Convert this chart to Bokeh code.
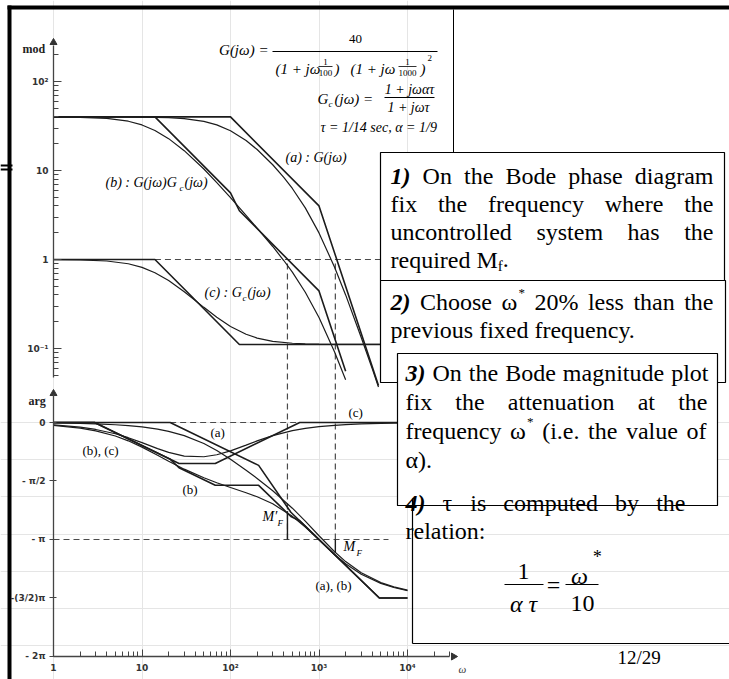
import math
from bokeh.plotting import figure
from bokeh.models import Range1d, LogScale, LinearScale, LogAxis, LinearAxis, FixedTicker
from bokeh.core.properties import value
from bokeh.embed import file_html
from bokeh.resources import INLINE

W, H = 729, 679

# ---------------- values ----------------
# magnitude, (a) |G(jw)|
w_mag_a = [1, 2, 4, 7, 10, 14, 20, 30, 50, 70, 100, 150, 200, 300, 400, 500, 700, 1000, 1500, 2000, 3000, 4000, 4700]
mag_a = [40.0, 40.0, 40.0, 39.9, 39.8, 39.6, 39.2, 38.3, 35.7, 32.6, 28.0, 21.7, 17.2, 11.6, 8.36, 6.28, 3.80, 1.99, 0.82, 0.40, 0.133, 0.059, 0.037]
# magnitude, (b) |G Gc|
w_mag_b = [1, 2, 4, 7, 10, 14, 20, 30, 50, 70, 100, 150, 200, 300, 400, 500, 700, 1000, 1500, 2000]
mag_b = [39.9, 39.6, 38.5, 35.8, 32.5, 28.2, 22.8, 16.7, 10.4, 7.30, 4.96, 3.14, 2.25, 1.40, 0.974, 0.720, 0.429, 0.223, 0.0913, 0.0445]
# magnitude, (c) |Gc|
w_mag_c = [1, 2, 4, 7, 10, 14, 20, 30, 50, 70, 100, 150, 200, 300, 500, 700, 1000, 2000, 5000]
mag_c = [0.997, 0.990, 0.962, 0.896, 0.816, 0.711, 0.581, 0.435, 0.290, 0.224, 0.177, 0.1445, 0.131, 0.120, 0.1146, 0.1129, 0.112, 0.1113, 0.1111]
# magnitude asymptotes
w_asym_a = [1, 100, 1000, 4700]
asym_mag_a = [40, 40, 4, 0.0385]
w_asym_b = [1, 14, 100, 126, 1000, 2000]
asym_mag_b = [40, 40, 5.6, 3.53, 0.444, 0.0556]
w_asym_c = [1, 14, 126, 5000]
asym_mag_c = [1, 1, 0.111, 0.111]

# phase (rad)
w_phase = [1, 2, 3, 5, 7, 10, 15, 20, 30, 50, 70, 100, 150, 200, 300, 500, 700, 1000, 1500, 2000, 3000, 5000, 7000, 10000]
phase_a = [-0.012, -0.024, -0.036, -0.060, -0.084, -0.120, -0.179, -0.237, -0.352, -0.564, -0.751, -0.985, -1.281, -1.502, -1.832, -2.301, -2.650, -3.042, -3.470, -3.735, -4.036, -4.298, -4.414, -4.503]
phase_b = [-0.075, -0.150, -0.223, -0.363, -0.492, -0.661, -0.880, -1.040, -1.253, -1.484, -1.617, -1.746, -1.887, -1.995, -2.183, -2.520, -2.808, -3.153, -3.545, -3.791, -4.073, -4.320, -4.430, -4.514]
phase_c = [-0.063, -0.126, -0.187, -0.303, -0.408, -0.541, -0.701, -0.803, -0.901, -0.920, -0.866, -0.761, -0.606, -0.493, -0.351, -0.219, -0.158, -0.111, -0.075, -0.056, -0.037, -0.022, -0.016, -0.011]
# phase asymptotes
w_pasym_a = [1, 20.8, 208, 481, 4810, 10000]
pasym_a = [0, 0, -1.152, -2.409, -4.712, -4.712]
w_pasym_b = [1, 2.91, 20.8, 26.2, 67.3, 208, 481, 606, 4810, 10000]
pasym_b = [0, 0, -0.984, -1.214, -1.686, -1.687, -2.524, -2.640, -4.712, -4.712]
w_pasym_c = [1, 2.91, 26.2, 67.3, 606, 10000]
pasym_c = [0, 0, -1.099, -1.099, 0, 0]

# marked crossover frequencies and phase margins
w_cross = [440, 1530]
margin_end = [-2.38, -3.50]

# ticks
mag_ticks = [0.1, 1, 10, 100]
mag_tick_labels = ["10⁻¹", "1", "10", "10²"]
phase_ticks = [0.0, -math.pi / 2, -math.pi, -1.5 * math.pi, -2 * math.pi]
phase_tick_labels = ["0", "- π/2", "- π", "-(3/2)π", "- 2π"]
w_ticks = [1, 10, 100, 1000, 10000]
w_tick_labels = ["1", "10", "10²", "10³", "10⁴"]

# slide texts
box_lines = [
    # (words, x_left, x_right, y_center, justified)
    (["1)", "On", "the", "Bode", "phase", "diagram"], 390, 713, 175, True),
    (["fix", "the", "frequency", "where", "the"], 390, 713, 203, True),
    (["uncontrolled", "system", "has", "the"], 390, 713, 231, True),
    (["required", "M_f."], 390, 713, 259, False),
    (["2)", "Choose", "ω*", "20%", "less", "than", "the"], 390, 713, 301, True),
    (["previous", "fixed", "frequency."], 390, 713, 329, False),
    (["3)", "On", "the", "Bode", "magnitude", "plot"], 405, 708, 372, True),
    (["fix", "the", "attenuation", "at", "the"], 405, 707, 401, True),
    (["frequency", "ω*", "(i.e.", "the", "value", "of"], 405, 706, 430, True),
    (["α)."], 405, 706, 459, False),
    (["4)", "τ", "is", "computed", "by", "the"], 405, 685, 502, True),
    (["relation:"], 405, 685, 530, False),
]

# ---------------- layout (pixel anchors of the scanned axes) ----------------
X_W1, X_DEC = 53.0, 88.5          # x pixel of w=1, pixels per decade
Y_MAG10, Y_MAGDEC = 170.0, 89.0   # y pixel of |.|=10, pixels per decade
Y_PH0, Y_PHRAD = 422.0, 37.24     # y pixel of phase 0, pixels per rad

x_lo, x_hi = 10 ** (-X_W1 / X_DEC), 10 ** ((W - X_W1) / X_DEC)
mag_hi, mag_lo = 10 ** (1 + Y_MAG10 / Y_MAGDEC), 10 ** (1 - (H - Y_MAG10) / Y_MAGDEC)
ph_hi, ph_lo = Y_PH0 / Y_PHRAD, -(H - Y_PH0) / Y_PHRAD


def mag_to_py(m):
    return Y_MAG10 + Y_MAGDEC * (1 - math.log10(m))


def py_to_phase(y):
    return (Y_PH0 - y) / Y_PHRAD


p = figure(width=W, height=H, x_axis_type="log", x_range=Range1d(x_lo, x_hi),
           y_range=Range1d(ph_lo, ph_hi), x_axis_location=None, y_axis_location=None,
           toolbar_location=None, output_backend="svg", title=None, min_border=0,
           outline_line_color=None, background_fill_color="white", border_fill_color="white")
p.extra_y_ranges = {"mag": Range1d(mag_lo, mag_hi), "px": Range1d(H, 0)}
p.extra_y_scales = {"mag": LogScale(), "px": LinearScale()}
p.extra_x_ranges = {"px": Range1d(0, W)}
p.extra_x_scales = {"px": LinearScale()}

INK = "#1c1c1c"
DASH = "#4a4a4a"

# ---------------- guide lines ----------------
p.line([14, 5000], [1, 1], y_range_name="mag", line_color=DASH, line_width=1.2, line_dash="6 4")
p.line([20.8, 606], [0, 0], line_color=DASH, line_width=1.2, line_dash="6 4")
p.line([1, 6100], [-math.pi, -math.pi], line_color=DASH, line_width=1.2, line_dash="6 4")
top_ph = py_to_phase(mag_to_py(1.0))
p.segment(x0=w_cross, y0=[-math.pi] * 2, x1=w_cross, y1=[top_ph] * 2,
          line_color=DASH, line_width=1.2, line_dash="6 4")
p.segment(x0=w_cross, y0=[-math.pi] * 2, x1=w_cross, y1=margin_end, line_color=INK, line_width=1.4)

# ---------------- magnitude curves ----------------
for w, m in [(w_mag_a, mag_a), (w_mag_b, mag_b), (w_mag_c, mag_c)]:
    p.line(w, m, y_range_name="mag", line_color=INK, line_width=1.2)
for w, m in [(w_asym_a, asym_mag_a), (w_asym_b, asym_mag_b), (w_asym_c, asym_mag_c)]:
    p.line(w, m, y_range_name="mag", line_color=INK, line_width=1.6)

# ---------------- phase curves ----------------
for ph in [phase_a, phase_b, phase_c]:
    p.line(w_phase, ph, line_color=INK, line_width=1.2)
for w, ph in [(w_pasym_a, pasym_a), (w_pasym_b, pasym_b), (w_pasym_c, pasym_c)]:
    p.line(w, ph, line_color=INK, line_width=1.6)

# ---------------- axes ----------------
mag_minor = [k * 10 ** e for e in range(-2, 3) for k in range(2, 10) if 0.05 <= k * 10 ** e <= 250]
mag_axis = LogAxis(y_range_name="mag", fixed_location=1,
                   ticker=FixedTicker(ticks=mag_ticks, minor_ticks=mag_minor),
                   major_label_overrides=dict(zip(mag_ticks, mag_tick_labels)),
                   bounds=(0.047, 254), major_tick_in=8, major_tick_out=0,
                   minor_tick_in=5, minor_tick_out=0, major_label_standoff=5)
ph_axis = LinearAxis(fixed_location=1, ticker=FixedTicker(ticks=phase_ticks, minor_ticks=[]),
                     major_label_overrides=dict(zip(phase_ticks, phase_tick_labels)),
                     bounds=(-2 * math.pi, 0.75), major_tick_in=3, major_tick_out=4,
                     major_label_standoff=4)
w_minor = [k * 10 ** e for e in range(0, 5) for k in range(2, 10) if k * 10 ** e <= 30000]
w_axis = LogAxis(fixed_location=-2 * math.pi,
                 ticker=FixedTicker(ticks=w_ticks, minor_ticks=w_minor),
                 major_label_overrides=dict(zip(w_ticks, w_tick_labels)),
                 bounds=(1, 10 ** 4.47), major_tick_in=7, major_tick_out=0,
                 minor_tick_in=5, minor_tick_out=0, major_label_standoff=7)
for ax, side in [(mag_axis, "left"), (ph_axis, "left"), (w_axis, "below")]:
    ax.axis_line_color = "#444"
    ax.axis_line_width = 1.3
    ax.major_tick_line_color = "#444"
    ax.minor_tick_line_color = "#444"
    ax.major_label_text_font = "DejaVu Sans"
    ax.major_label_text_font_size = "9px"
    ax.major_label_text_font_style = "bold"
    ax.major_label_text_color = "#333"
    p.add_layout(ax, side)

# arrow heads of the scanned axes
p.scatter(x=[53, 53], y=[42, 393], marker="triangle", size=7, color="#333",
          x_range_name="px", y_range_name="px")
p.scatter(x=[453], y=[656], marker="triangle", angle=-math.pi / 2, size=7, color="#333",
          x_range_name="px", y_range_name="px")


# ---------------- helpers for page decoration ----------------
def px_text(items, size, style="normal", align="left", baseline="middle",
            font="Liberation Serif", color="black"):
    if not items:
        return
    p.text(x=[it[1] for it in items], y=[it[2] for it in items], text=[it[0] for it in items],
           x_range_name="px", y_range_name="px", text_font=value(font),
           text_font_size=value(f"{size}px"), text_font_style=value(style),
           text_align=value(align), text_baseline=value(baseline), text_color=value(color))


def px_seg(x0, y0, x1, y1, color="black", width=1.0):
    p.segment(x0=x0, y0=y0, x1=x1, y1=y1, x_range_name="px", y_range_name="px",
              line_color=color, line_width=width)


# Times / Liberation Serif advance widths (1/1000 em)
TW = dict(zip("abcdefghijklmnopqrstuvwxyz",
              [444, 500, 444, 500, 444, 333, 500, 500, 278, 278, 500, 278, 778, 500, 500, 500,
               500, 333, 389, 278, 500, 500, 722, 500, 500, 444]))
TW.update({" ": 250, "O": 722, "B": 667, "C": 667, "M": 889, "%": 833, "(": 333, ")": 333,
           ".": 250, ":": 278, "*": 500, "ω": 690, "α": 530, "τ": 440, "_": 0})
for d in "0123456789":
    TW[d] = 500

FS = 24  # slide font size


def word_w(wd):
    if wd.endswith("*"):
        return TW[wd[0]] * FS / 1000 + 7
    if "_" in wd:
        return (sum(TW.get(c, 500) for c in wd.replace("_f", "")) * FS / 1000) + 5
    return sum(TW.get(c, 500) for c in wd) * FS / 1000


normal_items, bi_items, sub_items, star_items = [], [], [], []
for words, xl, xr, yc, just in box_lines:
    widths = [word_w(wd) for wd in words]
    if just and len(words) > 1:
        gap = (xr - xl - sum(widths)) / (len(words) - 1)
    else:
        gap = TW[" "] * FS / 1000
    x = xl
    for i, (wd, wdt) in enumerate(zip(words, widths)):
        if i == 0 and wd[0].isdigit():
            bi_items.append((wd, x, yc))
        elif wd.endswith("*"):
            normal_items.append((wd[0], x, yc))
            star_items.append(("*", x + TW[wd[0]] * FS / 1000 + 0.5, yc - 9))
        elif wd == "M_f.":
            normal_items.append(("M", x, yc))
            mw = TW["M"] * FS / 1000
            sub_items.append(("f", x + mw, yc + 6))
            normal_items.append((".", x + mw + 5, yc))
        else:
            normal_items.append((wd, x, yc))
        x += wdt + gap

# ---------------- chart texts ----------------
px_text([("mod", 22, 48), ("arg", 28, 400)], 12, style="bold", color="#222")
px_text([("ω", 458, 668)], 11, style="italic", color="#333")
# formulas
px_text([("G(jω) =", 268, 49)], 15, style="italic", align="right")
px_text([("40", 355, 38)], 13, align="center")
px_seg([272], [51], [437], [51], width=1)
px_text([("(1 + jω", 275, 68), (")", 334, 68), ("(1 + jω", 350, 68), (")", 420, 68)], 15,
        style="italic")
px_text([("1", 325, 61), ("100", 325, 72), ("1", 407, 61), ("1000", 407, 72)], 9, align="center")
px_seg([318, 398], [66, 66], [332, 416], [66, 66], width=0.8)
px_text([("2", 427, 57)], 9)
px_text([("G", 317, 98)], 15, style="italic")
px_text([("c", 328, 103)], 9, style="italic")
px_text([("(jω) =", 334, 98)], 15, style="italic")
px_text([("1 + jωατ", 409, 89), ("1 + jωτ", 408, 107)], 14, style="italic", align="center")
px_seg([384], [97], [434], [97], width=1)
px_text([("τ = 1/14 sec,  α = 1/9", 320, 127)], 14, style="italic")
# curve labels
px_text([("(a) : G(jω)", 285, 157), ("(b) : G(jω)G", 105, 182), ("(jω)", 184, 182),
         ("(c) : G", 204, 292), ("(jω)", 247, 292)], 14, style="italic")
px_text([("c", 179, 187), ("c", 242, 297)], 9, style="italic")
px_text([("(a)", 210, 432), ("(b), (c)", 82, 450), ("(b)", 182, 489), ("(a), (b)", 315, 585),
         ("(c)", 348, 412)], 13)
px_text([("M′", 262, 516), ("M", 343, 546)], 14, style="italic")
px_text([("F", 277, 522), ("F", 356, 552)], 9, style="italic")

# ---------------- page frame ----------------
p.quad(left=[7, 7], right=[729, 11], top=[5, 5], bottom=[9, 679], fill_color="black",
       line_color=None, x_range_name="px", y_range_name="px")
px_seg([0, 0], [165, 169], [12, 12], [165, 169], width=1.8)
px_seg([453], [9], [453], [152], width=1)

# ---------------- text boxes ----------------
p.quad(left=[380, 380, 397], right=[724, 725, 717], top=[152, 280, 353], bottom=[280, 382, 505],
       fill_color="white", line_color="black", line_width=1.2,
       x_range_name="px", y_range_name="px")
px_text(bi_items, FS, style="bold italic")
px_text(normal_items, FS)
px_text(sub_items, 15)
px_text(star_items, 13)
# formula 1/(alpha tau) = omega*/10
px_text([("1", 523, 571), ("10", 582, 603)], 24, align="center")
px_text([("α τ", 523, 603), ("ω", 579, 575)], 24, style="italic", align="center")
px_text([("*", 596, 556)], 18, style="italic", align="center")
px_text([("=", 553, 584)], 24, align="center")
px_seg([504, 565], [584, 584], [543, 598], [584, 584], width=1.2)
px_text([("12/29", 617, 657)], 19)

# borders drawn over text
px_seg([397], [505], [717], [505], width=1.2)
px_seg([412, 412], [498, 643], [412, 729], [643, 643], width=1.2)

open("out.html", "w").write(file_html(p, INLINE))
